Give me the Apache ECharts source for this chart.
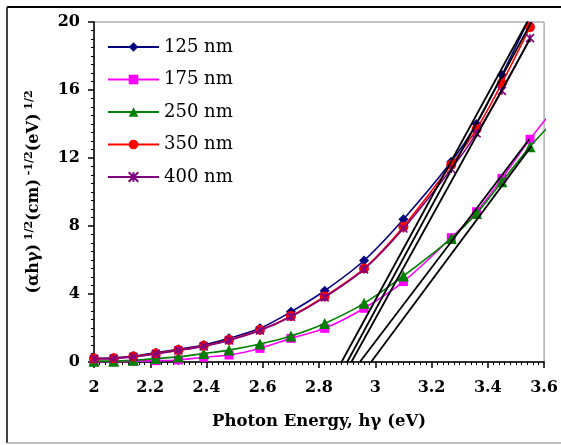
<!DOCTYPE html>
<html>
<head>
<meta charset="utf-8">
<script src="https://cdn.jsdelivr.net/npm/echarts@6/dist/echarts.min.js"></script>
<style>
html,body{margin:0;padding:0;background:#fff;}
#chart{width:561px;height:445px;}
</style>
</head>
<body>
<div id="chart"></div>
<script>
// Photon energy (eV); last value only used by the 175/250 nm curves
var energy = [2.00, 2.07, 2.14, 2.22, 2.30, 2.39, 2.48, 2.59, 2.70, 2.82, 2.96, 3.10, 3.27, 3.36, 3.45, 3.55, 3.65];
var seriesNames = ['125 nm', '175 nm', '250 nm', '350 nm', '400 nm'];
var v125 = [0.22, 0.25, 0.35, 0.55, 0.75, 1.00, 1.39, 1.98, 2.95, 4.19, 5.97, 8.40, 11.78, 14.00, 16.88, 20.30];
var v175 = [0.02, 0.03, 0.05, 0.08, 0.12, 0.28, 0.41, 0.80, 1.39, 1.98, 3.16, 4.73, 7.31, 8.84, 10.80, 13.10, 15.20];
var v250 = [0.05, 0.05, 0.10, 0.20, 0.30, 0.50, 0.70, 1.06, 1.53, 2.27, 3.45, 5.06, 7.27, 8.74, 10.60, 12.66, 14.45];
var v350 = [0.20, 0.22, 0.32, 0.50, 0.70, 0.95, 1.30, 1.88, 2.70, 3.86, 5.50, 7.96, 11.60, 13.70, 16.40, 19.70];
var v400 = [0.18, 0.20, 0.30, 0.48, 0.68, 0.92, 1.27, 1.85, 2.66, 3.80, 5.45, 7.85, 11.35, 13.45, 15.95, 19.05];
// Linear extrapolation lines: [start energy, start value, end energy, end value]
var tangentLines = [
  [2.880, 0, 3.540, 20.0],
  [2.900, 0, 3.555, 20.0],
  [2.915, 0, 3.550, 19.0],
  [2.945, 0, 3.547, 13.1],
  [2.985, 0, 3.555, 12.7]
];
var xTicks = {min: 2, max: 3.6, interval: 0.2};
var yTicks = {min: 0, max: 20, interval: 4};

var colors = ['#000080', '#FF00FF', '#008000', '#FF0000', '#800080'];
var symbols = ['diamond', 'rect', 'triangle', 'circle',
  'path://M0,0L10,10M10,0L0,10M5,0L5,10'];
var sizes = [10, 9, 11, 10, 8];
var values = [v125, v175, v250, v350, v400];
var clips = [true, false, false, true, true];

var FONT = 'DejaVu Serif';
var series = [];
values.forEach(function (vals, i) {
  var data = vals.map(function (v, k) {
    var item = {value: [energy[k], v]};
    if (k >= 16) item.symbol = 'none';
    return item;
  });
  series.push({
    name: seriesNames[i],
    type: 'line',
    data: data,
    smooth: 0.3,
    clip: clips[i],
    symbol: symbols[i],
    symbolSize: sizes[i],
    color: colors[i],
    itemStyle: i === 4 ? {color: colors[i], borderColor: colors[i], borderWidth: 1.6} : {color: colors[i]},
    lineStyle: {color: colors[i], width: 1.6},
    z: 2 + i
  });
});
tangentLines.forEach(function (t) {
  series.push({
    type: 'line',
    data: [[t[0], t[1]], [t[2], t[3]]],
    symbol: 'none',
    lineStyle: {color: '#000', width: 1.8},
    silent: true,
    z: 10
  });
});

var chart = echarts.init(document.getElementById('chart'), null, {renderer: 'canvas'});
chart.setOption({
  animation: false,
  backgroundColor: '#fff',
  grid: {left: 94, top: 22, right: 13, bottom: 83, show: true, borderColor: '#888', borderWidth: 1},
  legend: {
    data: seriesNames,
    orient: 'vertical',
    left: 102, top: 32,
    itemWidth: 51, itemHeight: 12, itemGap: 12.5,
    textStyle: {fontFamily: FONT, fontSize: 18, color: '#000', lineHeight: 20}
  },
  xAxis: {
    type: 'value', min: xTicks.min, max: xTicks.max, interval: xTicks.interval,
    name: 'Photon Energy, hγ (eV)', nameLocation: 'middle', nameGap: 51,
    nameTextStyle: {fontFamily: FONT, fontWeight: 'bold', fontSize: 16.5, color: '#000'},
    axisLine: {show: true, lineStyle: {color: '#000', width: 1.5}},
    axisTick: {show: true, inside: false, length: 6, lineStyle: {color: '#000', width: 1.5}},
    minorTick: {show: true, splitNumber: 10, length: 3, lineStyle: {color: '#000', width: 1}},
    splitLine: {show: false},
    axisLabel: {fontFamily: FONT, fontWeight: 'bold', fontSize: 16, color: '#000', margin: 18}
  },
  yAxis: {
    type: 'value', min: yTicks.min, max: yTicks.max, interval: yTicks.interval,
    name: '(αhγ){s| 1/2}(cm){s| -1/2}(eV){s| 1/2}', nameLocation: 'middle', nameGap: 50, nameRotate: 90,
    nameTextStyle: {fontFamily: FONT, fontWeight: 'bold', fontSize: 16, color: '#000', lineHeight: 20,
      rich: {s: {fontFamily: FONT, fontWeight: 'bold', fontSize: 11, color: '#000', verticalAlign: 'top', lineHeight: 12}}},
    axisLine: {show: true, lineStyle: {color: '#000', width: 1.5}},
    axisTick: {show: true, inside: false, length: 6, lineStyle: {color: '#000', width: 1.5}},
    minorTick: {show: true, splitNumber: 8, length: 3, lineStyle: {color: '#000', width: 1}},
    splitLine: {show: false},
    axisLabel: {fontFamily: FONT, fontWeight: 'bold', fontSize: 16, color: '#000', margin: 14}
  },
  graphic: [
    {type: 'line', shape: {x1: 7, y1: 7, x2: 561, y2: 7}, style: {stroke: '#000', lineWidth: 2}, silent: true},
    {type: 'line', shape: {x1: 7, y1: 7, x2: 7, y2: 443}, style: {stroke: '#000', lineWidth: 1.5}, silent: true},
    {type: 'line', shape: {x1: 7, y1: 443, x2: 561, y2: 443}, style: {stroke: '#aaa', lineWidth: 1.5}, silent: true}
  ],
  series: series
});
</script>
</body>
</html>
